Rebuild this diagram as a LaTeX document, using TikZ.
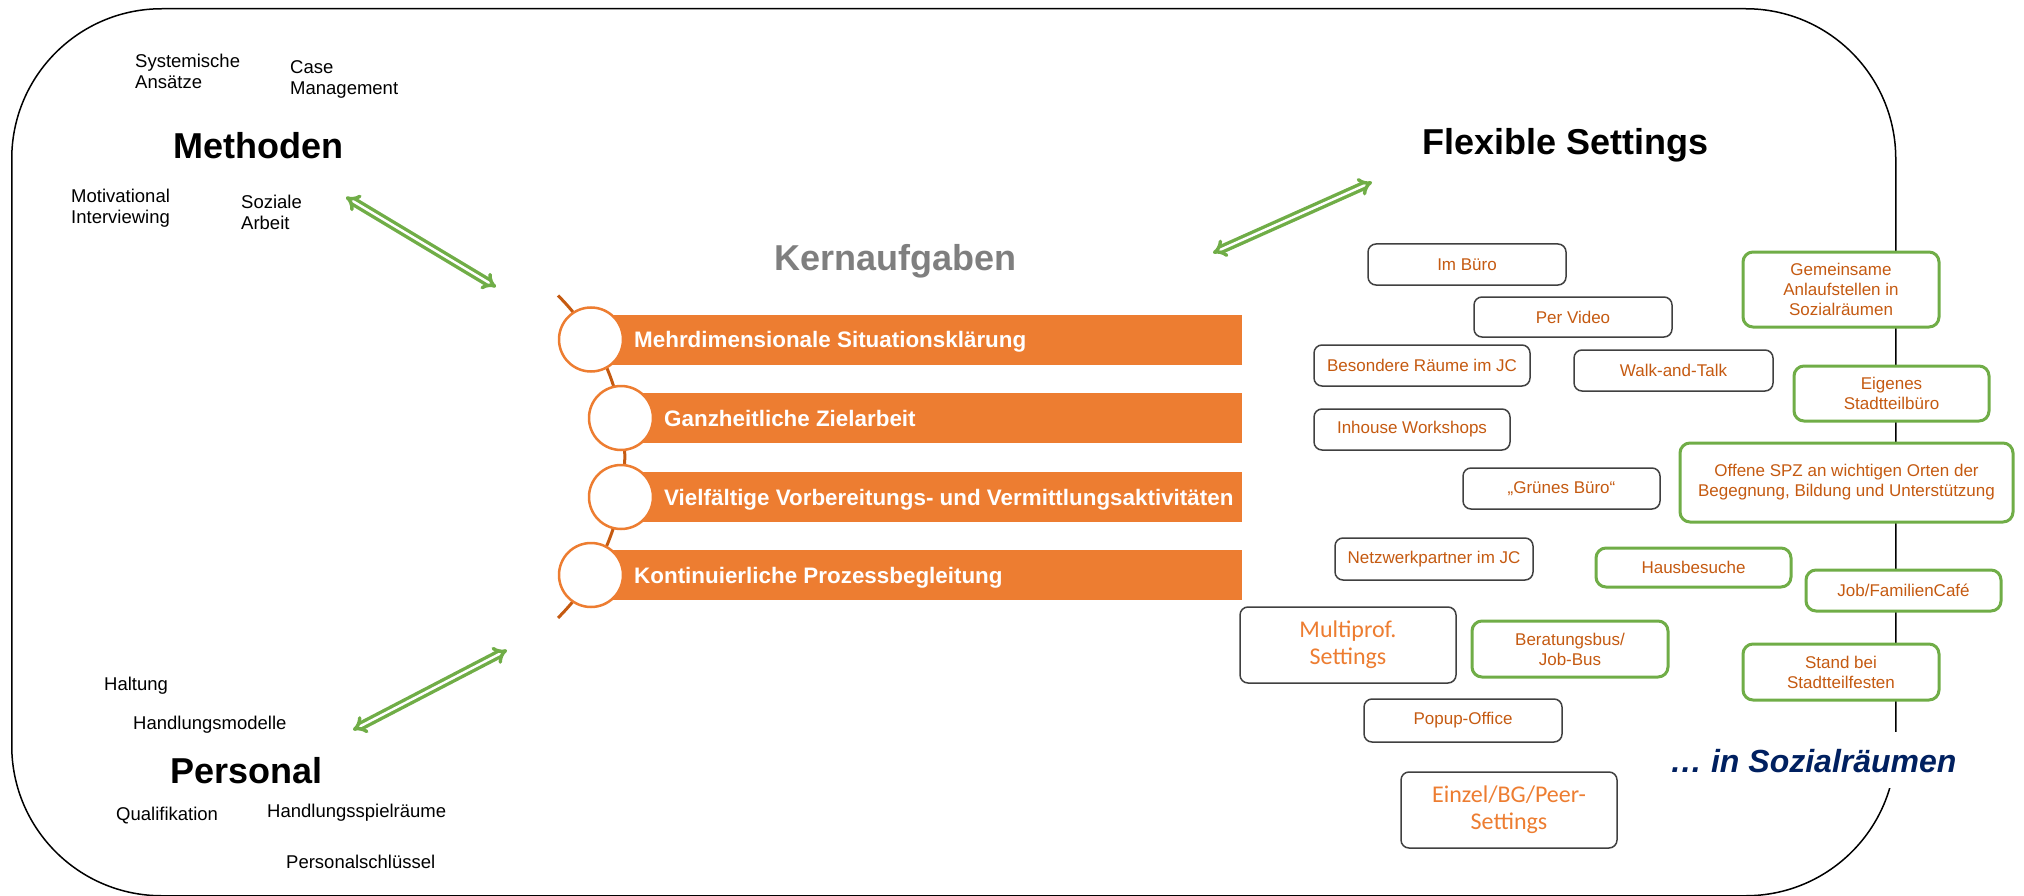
\documentclass[tikz,border=0pt]{standalone}
\usepackage{fontspec}
\setmainfont{Liberation Sans}
\newfontfamily\calibfont{Carlito}
\usetikzlibrary{arrows.meta}

\definecolor{barorange}{HTML}{ED7D31}
\definecolor{darkorange}{HTML}{C55A11}
\definecolor{setgreen}{HTML}{70AD47}
\definecolor{boxgray}{HTML}{404040}
\definecolor{kerngray}{HTML}{7F7F7F}
\definecolor{navy}{HTML}{002060}

\tikzset{
  keyword/.style={anchor=west, align=left, inner sep=0pt, font=\fontsize{18.5}{21}\selectfont},
  heading/.style={anchor=base west, inner sep=0pt, font=\fontsize{36}{40}\selectfont\bfseries},
  setbox/.style={rectangle, draw=boxgray, line width=1.5pt, rounded corners=8pt, fill=white, text=darkorange, align=center, inner sep=0pt, font=\fontsize{17}{20}\selectfont},
  sozbox/.style={setbox, draw=setgreen, line width=3pt, rounded corners=10pt},
  bigbox/.style={setbox, text=barorange, font=\calibfont\fontsize{24}{27}\selectfont},
  task/.style={rectangle, fill=barorange, minimum height=50pt, anchor=west, inner sep=0pt},
  tasktext/.style={anchor=base west, inner sep=0pt, text=white, font=\fontsize{22.4}{26}\selectfont\bfseries},
  knob/.style={circle, draw=barorange, line width=2.5pt, fill=white, minimum size=64pt, inner sep=0pt},
  dblarrow/.style={draw=setgreen, line width=3.4pt, double=white, double distance=2.4pt, Implies-Implies}
}

\begin{document}
\begin{tikzpicture}[x=1pt,y=-1pt]
\useasboundingbox (0,0) rectangle (2024,896);

\node (frame) [rectangle, draw, line width=1.5pt, rounded corners=150pt, minimum width=1884, minimum height=887, inner sep=0pt, anchor=north west] at (11,8) {};

\node (systemisch) [keyword] at (135,71.5) {Systemische\\Ansätze};
\node (casemgmt) [keyword] at (290,79.5) {Case\\Management};
\node (methoden) [heading] at (173,159) {Methoden};
\node (motivational) [keyword] at (71,208.5) {Motivational\\Interviewing};
\node (sozarbeit) [keyword] at (241,212) {Soziale\\Arbeit};

\node (haltung) [keyword] at (104,686) {Haltung};
\node (modelle) [keyword] at (133,725) {Handlungsmodelle};
\node (personal) [heading] at (170,783) {Personal};
\node (quali) [keyword] at (116,816) {Qualifikation};
\node (spielraum) [keyword] at (267,812.5) {Handlungsspielräume};
\node (schluessel) [keyword] at (286,861.5) {Personalschlüssel};

\node (kern) [heading, text=kerngray] at (774,270) {Kernaufgaben};
\node (flexible) [heading] at (1422,155) {Flexible Settings};

\draw[darkorange, line width=3pt] (558,295.5) arc[start angle=-45, end angle=45, radius=228];

\node (task1) [task, minimum width=651] at (591,339.5) {};
\node (task2) [task, minimum width=621] at (621,418) {};
\node (task3) [task, minimum width=621] at (621,497) {};
\node (task4) [task, minimum width=651] at (591,575) {};
\node (knob1) [knob] at (task1.west) {};
\node (knob2) [knob] at (task2.west) {};
\node (knob3) [knob] at (task3.west) {};
\node (knob4) [knob] at (task4.west) {};
\node [tasktext] at ([xshift=43pt,yshift=-8pt]task1.west) {Mehrdimensionale Situationsklärung};
\node [tasktext] at ([xshift=43pt,yshift=-8pt]task2.west) {Ganzheitliche Zielarbeit};
\node [tasktext] at ([xshift=43pt,yshift=-8pt]task3.west) {Vielfältige Vorbereitungs- und Vermittlungsaktivitäten};
\node [tasktext] at ([xshift=43pt,yshift=-8pt]task4.west) {Kontinuierliche Prozessbegleitung};

\node (buero) [setbox, minimum width=198, minimum height=41] at (1467,264.5) {Im Büro};
\node (video) [setbox, minimum width=198, minimum height=40] at (1573,317) {Per Video};
\node (raeume) [setbox, minimum width=216, minimum height=41] at (1422,365.5) {Besondere Räume im JC};
\node (walk) [setbox, minimum width=199, minimum height=41] at (1673.5,370.5) {Walk-and-Talk};
\node (inhouse) [setbox, minimum width=196, minimum height=41] at (1412,429.5) {Inhouse Workshops};
\node (gruen) [setbox, minimum width=197, minimum height=41] at (1561.5,488.5) {„Grünes Büro“};
\node (netzwerk) [setbox, minimum width=198, minimum height=42] at (1434,559) {Netzwerkpartner im JC};
\node (multiprof) [bigbox, minimum width=216, minimum height=76] at (1348,645) {Multiprof.\\Settings};
\node (popup) [setbox, minimum width=198, minimum height=43] at (1463,720.5) {Popup-Office};
\node (einzel) [bigbox, minimum width=216, minimum height=76] at (1509,810) {Einzel/BG/Peer-\\Settings};

\node (anlauf) [sozbox, minimum width=196, minimum height=75] at (1841,289.5) {Gemeinsame\\Anlaufstellen in\\Sozialräumen};
\node (stadtteil) [sozbox, minimum width=195, minimum height=55] at (1891.5,393.5) {Eigenes\\Stadtteilbüro};
\node (spz) [sozbox, minimum width=333, minimum height=79] at (1846.5,482.5) {Offene SPZ an wichtigen Orten der\\Begegnung, Bildung und Unterstützung};
\node (hausbesuch) [sozbox, minimum width=195, minimum height=39] at (1693.5,567.5) {Hausbesuche};
\node (cafe) [sozbox, minimum width=195, minimum height=41] at (1903.5,590.5) {Job/FamilienCafé};
\node (bus) [sozbox, minimum width=196, minimum height=56] at (1570,649) {Beratungsbus/\\Job-Bus};
\node (fest) [sozbox, minimum width=196, minimum height=56] at (1841,672) {Stand bei\\Stadtteilfesten};

\node (sozraum) [anchor=base west, fill=white, inner xsep=2pt, inner ysep=0pt, text height=40pt, text depth=16pt, text=navy, font=\fontsize{32}{36}\selectfont\bfseries\itshape] at (1668,772) {… in Sozialräumen};

\coordinate (methA) at (346,197);
\coordinate (methB) at (496,287);
\coordinate (persA) at (353,730);
\coordinate (persB) at (507,650);
\coordinate (flexA) at (1213,253);
\coordinate (flexB) at (1372,182);
\draw[dblarrow] (methA) -- (methB);
\draw[dblarrow] (persA) -- (persB);
\draw[dblarrow] (flexA) -- (flexB);
\end{tikzpicture}
\end{document}
